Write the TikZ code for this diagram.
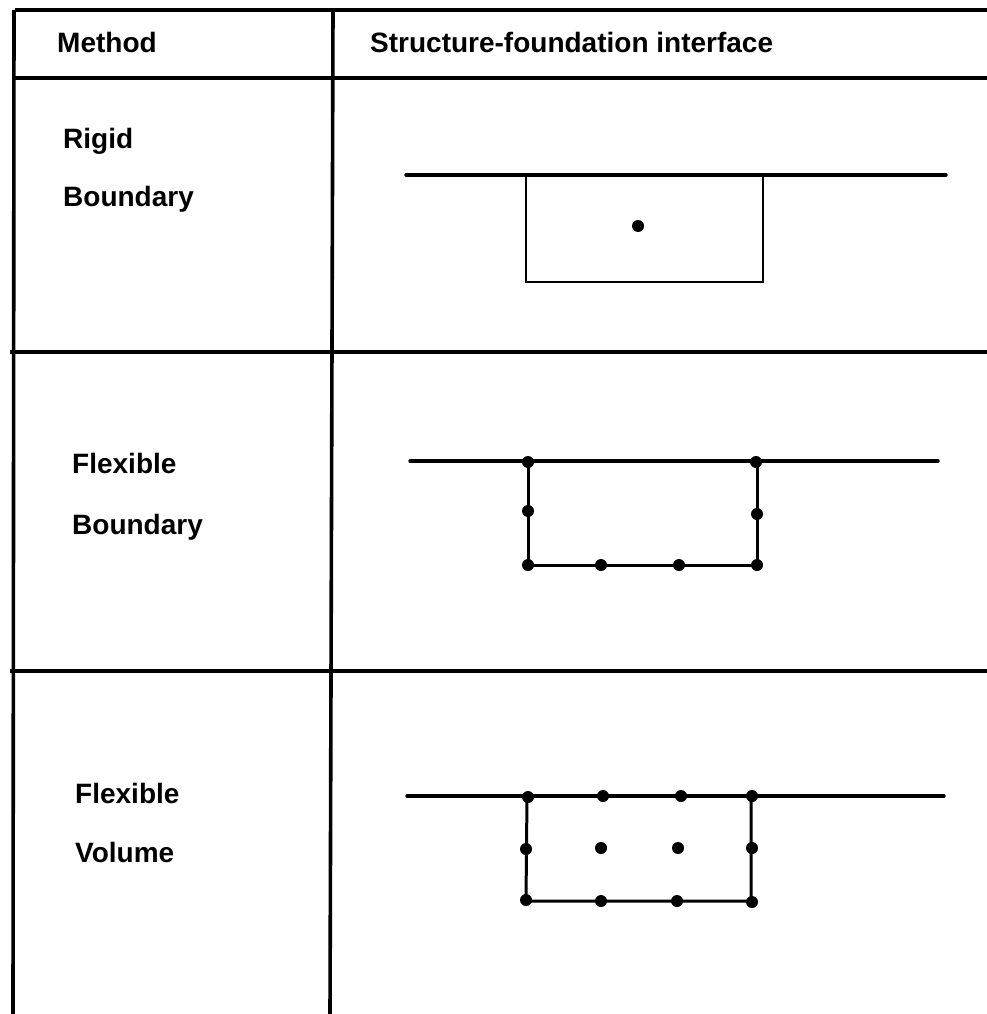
\documentclass[tikz,border=0pt]{standalone}
\usepackage{fontspec}
\setmainfont{Liberation Sans}
\begin{document}
\begin{tikzpicture}[x=1pt,y=-1pt,
  rule/.style={line width=3.6pt},
  ground/.style={line width=3.4pt,line cap=round},
  pit/.style={line width=3pt},
  pitthin/.style={line width=2.2pt},
  label/.style={anchor=base west,inner sep=0pt,font=\fontsize{28}{30}\selectfont\bfseries},
  nodept/.style={circle,fill=black,inner sep=0pt,minimum size=12pt}]
\useasboundingbox (0,0) rectangle (987,1014);

% table rules
\draw[rule] (15,10) -- (987,10);
\draw[rule] (12,78) -- (987,78);
\draw[rule] (10,352) -- (987,352);
\draw[rule] (10,671) -- (987,671);
\draw[rule] (14,10) -- (13,1014);
\draw[rule] (333,10) -- (330,1014);

% headings
\node[label] (hmethod) at (57,53) {Method};
\node[label] (hinterface) at (370,53) {Structure-foundation interface};

% row labels
\node[label] (rigid) at (63,148) {Rigid};
\node[label] (rbound) at (63,206) {Boundary};
\node[label] (flex1) at (72,473) {Flexible};
\node[label] (fbound) at (72,534) {Boundary};
\node[label] (flex2) at (75,803) {Flexible};
\node[label] (fvol) at (75,862) {Volume};

% rigid boundary: one node at the centre
\draw[ground] (406,175) -- (946,175);
\draw[pitthin] (526,175) -- (526,282) -- (763,282) -- (763,175);
\node[nodept] (rc) at (638,226) {};

% flexible boundary: nodes on the interface only
\draw[ground] (410,461) -- (938,461);
\draw[pit] (528,461) -- (528,565) -- (757,565) -- (757,461);
\foreach \p/\n in {{(528,462)}/a1,{(756,462)}/a2,{(528,511)}/a3,{(757,514)}/a4,
                   {(528,565)}/a5,{(601,565)}/a6,{(679,565)}/a7,{(757,565)}/a8}
  \node[nodept] (fb\n) at \p {};

% flexible volume: nodes throughout the embedded region
\draw[ground] (407,796) -- (944,796);
\draw[pit] (527,796) -- (526,901) -- (751,901) -- (751,796);
\foreach \p/\n in {{(528,797)}/b1,{(603,796)}/b2,{(681,796)}/b3,{(752,796)}/b4,
                   {(526,849)}/b5,{(601,848)}/b6,{(678,848)}/b7,{(752,848)}/b8,
                   {(526,900)}/b9,{(601,901)}/b10,{(677,901)}/b11,{(752,902)}/b12}
  \node[nodept] (fv\n) at \p {};
\end{tikzpicture}
\end{document}
